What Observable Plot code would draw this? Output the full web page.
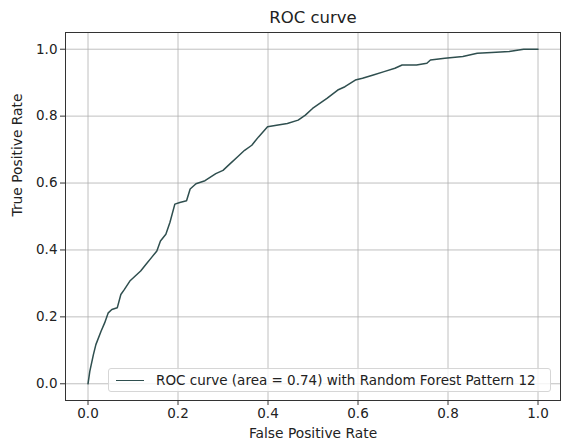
<!DOCTYPE html>
<html>
<head>
<meta charset="utf-8">
<script src="https://cdn.jsdelivr.net/npm/d3@7"></script>
<script src="https://cdn.jsdelivr.net/npm/@observablehq/plot@0.6"></script>
<style>
  html, body { margin: 0; padding: 0; background: #fff; }
  #wrap { position: relative; width: 563px; height: 443px; font-family: "DejaVu Sans", sans-serif; }
  #legend { position: absolute; left: 108px; top: 368px; width: 443px; height: 24px;
    border: 1px solid #d6d6d6; border-radius: 3px; background: rgba(255,255,255,0.8);
    box-sizing: border-box; display: flex; align-items: center; font-size: 13.5px; color: #222; }
  #legend .sw { width: 28px; height: 0; border-top: 1.5px solid #2f4f4f; margin: 0 12px 0 7px; }
</style>
</head>
<body>
<div id="wrap"></div>
<script>
const title = "ROC curve";
const xLabel = "False Positive Rate";
const yLabel = "True Positive Rate";
const legendLabel = "ROC curve (area = 0.74) with Random Forest Pattern 12";
const ticks = [0, 0.2, 0.4, 0.6, 0.8, 1.0];

const fpr = [0, 0.004, 0.012, 0.0175, 0.029, 0.037, 0.045, 0.053, 0.065, 0.073, 0.081, 0.093, 0.105, 0.117, 0.129, 0.141, 0.153, 0.161, 0.173, 0.182, 0.193, 0.204, 0.219, 0.227, 0.24, 0.26, 0.284, 0.3, 0.316, 0.332, 0.348, 0.364, 0.379, 0.399, 0.419, 0.443, 0.467, 0.483, 0.499, 0.515, 0.531, 0.555, 0.571, 0.594, 0.61, 0.634, 0.658, 0.682, 0.698, 0.73, 0.753, 0.761, 0.793, 0.833, 0.865, 0.897, 0.936, 0.968, 1.0];
const tpr = [0, 0.037, 0.087, 0.117, 0.157, 0.182, 0.212, 0.222, 0.227, 0.267, 0.282, 0.307, 0.322, 0.337, 0.357, 0.377, 0.397, 0.427, 0.447, 0.482, 0.537, 0.542, 0.547, 0.582, 0.598, 0.607, 0.628, 0.638, 0.658, 0.678, 0.698, 0.713, 0.738, 0.768, 0.773, 0.778, 0.788, 0.803, 0.823, 0.838, 0.853, 0.878, 0.888, 0.908, 0.913, 0.923, 0.933, 0.943, 0.953, 0.953, 0.958, 0.968, 0.973, 0.978, 0.988, 0.99, 0.993, 1.0, 1.0];

const data = fpr.map((x, i) => ({x, y: tpr[i]}));
const fmt = d3.format(".1f");

const chart = Plot.plot({
  width: 563,
  height: 443,
  marginTop: 32,
  marginBottom: 43,
  marginLeft: 65,
  marginRight: 3,
  style: {fontFamily: "DejaVu Sans, sans-serif", fontSize: "13.5px", color: "#222", background: "#fff"},
  x: {domain: [-0.05, 1.05], ticks, tickFormat: fmt, label: null},
  y: {domain: [-0.05, 1.05], ticks, tickFormat: fmt, label: null},
  marks: [
    Plot.gridX(ticks, {stroke: "#b0b0b0", strokeOpacity: 1, strokeWidth: 0.8}),
    Plot.gridY(ticks, {stroke: "#b0b0b0", strokeOpacity: 1, strokeWidth: 0.8}),
    Plot.axisX(ticks, {tickSize: 5, tickPadding: 3, tickFormat: fmt, label: null, stroke: "#333"}),
    Plot.axisY(ticks, {tickSize: 5, tickPadding: 3, tickFormat: fmt, label: null, stroke: "#333"}),
    Plot.line(data, {x: "x", y: "y", stroke: "#2f4f4f", strokeWidth: 1.5}),
    Plot.frame({stroke: "#333", strokeWidth: 1}),
    Plot.text([title], {frameAnchor: "top", dy: -14.5, lineAnchor: "middle", fontSize: 16.5, fill: "#222"}),
    Plot.text([xLabel], {frameAnchor: "bottom", dy: 33, lineAnchor: "middle", fontSize: 13.8, fill: "#222"}),
    Plot.text([yLabel], {frameAnchor: "left", dx: -48, rotate: -90, lineAnchor: "middle", fontSize: 13.8, fill: "#222"})
  ]
});

const wrap = document.getElementById("wrap");
wrap.appendChild(chart);
const lg = document.createElement("div");
lg.id = "legend";
lg.innerHTML = '<span class="sw"></span><span></span>';
lg.lastChild.textContent = legendLabel;
wrap.appendChild(lg);
</script>
</body>
</html>
